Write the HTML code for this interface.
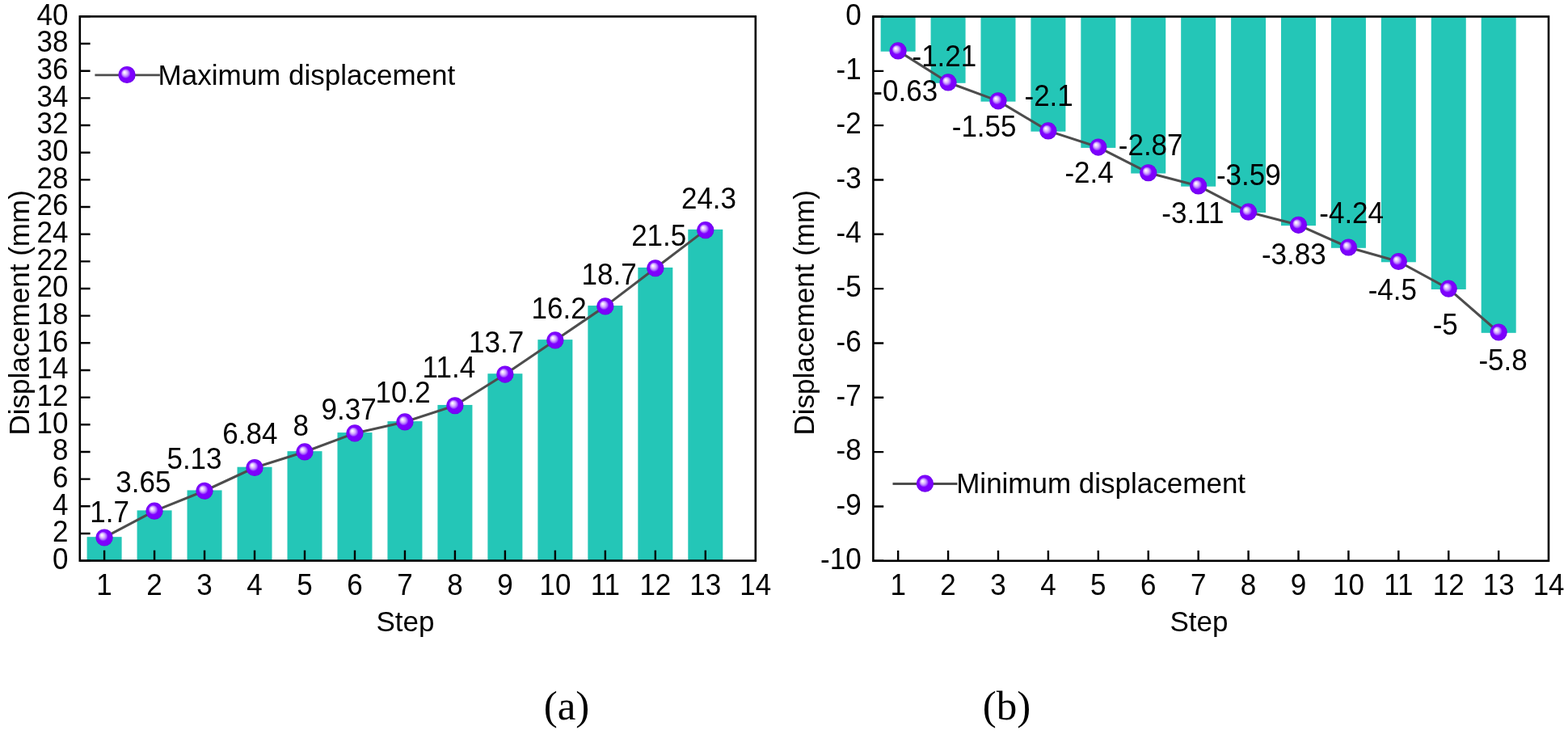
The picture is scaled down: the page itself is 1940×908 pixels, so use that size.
<!DOCTYPE html>
<html><head><meta charset="utf-8"><title>Displacement charts</title>
<style>
html,body{margin:0;padding:0;background:#fff;}
body{width:1940px;height:908px;overflow:hidden;}
svg{display:block;}
.t text, text.t{font-family:"Liberation Sans",Arial,sans-serif;font-size:35px;fill:#000;}
.cap{font-family:"Liberation Serif","Times New Roman",serif;font-size:51px;fill:#000;}
</style></head>
<body>
<svg width="1940" height="908" viewBox="0 0 1940 908">
<defs>
<radialGradient id="ball" cx="0.5" cy="0.5" r="0.5" fx="0.34" fy="0.345">
<stop offset="0" stop-color="#ffffff"/>
<stop offset="0.1" stop-color="#f7eeff"/>
<stop offset="0.3" stop-color="#d4a8ff"/>
<stop offset="0.45" stop-color="#a258ff"/>
<stop offset="0.56" stop-color="#8000ff"/>
<stop offset="0.86" stop-color="#7b00fb"/>
<stop offset="1" stop-color="#6c00e6"/>
</radialGradient>
</defs>
<rect width="1940" height="908" fill="#fff"/>
<g fill="#24c6b7">
<rect x="107.60" y="664.19" width="43.00" height="29.41"/>
<rect x="169.57" y="631.37" width="43.00" height="62.23"/>
<rect x="231.55" y="606.46" width="43.00" height="87.14"/>
<rect x="293.52" y="577.68" width="43.00" height="115.92"/>
<rect x="355.50" y="558.16" width="43.00" height="135.44"/>
<rect x="417.48" y="535.10" width="43.00" height="158.50"/>
<rect x="479.45" y="521.13" width="43.00" height="172.47"/>
<rect x="541.42" y="500.94" width="43.00" height="192.66"/>
<rect x="603.40" y="462.23" width="43.00" height="231.37"/>
<rect x="665.38" y="420.15" width="43.00" height="273.45"/>
<rect x="727.35" y="378.08" width="43.00" height="315.52"/>
<rect x="789.33" y="330.95" width="43.00" height="362.65"/>
<rect x="851.30" y="283.83" width="43.00" height="409.77"/>
</g>
<g stroke="#000" stroke-width="2.6" fill="none">
<rect x="98.80" y="20.40" width="836.00" height="673.20"/>
<path d="M98.80 693.60h12.8 M98.80 659.94h12.8 M98.80 626.28h12.8 M98.80 592.62h12.8 M98.80 558.96h12.8 M98.80 525.30h12.8 M98.80 491.64h12.8 M98.80 457.98h12.8 M98.80 424.32h12.8 M98.80 390.66h12.8 M98.80 357.00h12.8 M98.80 323.34h12.8 M98.80 289.68h12.8 M98.80 256.02h12.8 M98.80 222.36h12.8 M98.80 188.70h12.8 M98.80 155.04h12.8 M98.80 121.38h12.8 M98.80 87.72h12.8 M98.80 54.06h12.8 M98.80 20.40h12.8 M129.10 693.60v-12.8 M191.07 693.60v-12.8 M253.05 693.60v-12.8 M315.02 693.60v-12.8 M377.00 693.60v-12.8 M438.98 693.60v-12.8 M500.95 693.60v-12.8 M562.92 693.60v-12.8 M624.90 693.60v-12.8 M686.88 693.60v-12.8 M748.85 693.60v-12.8 M810.83 693.60v-12.8 M872.80 693.60v-12.8" stroke-linecap="butt" stroke-width="2.4"/>
</g>
<polyline points="129.10,664.99 191.07,632.17 253.05,607.26 315.02,578.48 377.00,558.96 438.98,535.90 500.95,521.93 562.92,501.74 624.90,463.03 686.88,420.95 748.85,378.88 810.83,331.75 872.80,284.63" fill="none" stroke="#4d4d4d" stroke-width="3.1" stroke-linejoin="round"/>
<circle cx="129.10" cy="664.99" r="10.6" fill="url(#ball)"/>
<circle cx="191.07" cy="632.17" r="10.6" fill="url(#ball)"/>
<circle cx="253.05" cy="607.26" r="10.6" fill="url(#ball)"/>
<circle cx="315.02" cy="578.48" r="10.6" fill="url(#ball)"/>
<circle cx="377.00" cy="558.96" r="10.6" fill="url(#ball)"/>
<circle cx="438.98" cy="535.90" r="10.6" fill="url(#ball)"/>
<circle cx="500.95" cy="521.93" r="10.6" fill="url(#ball)"/>
<circle cx="562.92" cy="501.74" r="10.6" fill="url(#ball)"/>
<circle cx="624.90" cy="463.03" r="10.6" fill="url(#ball)"/>
<circle cx="686.88" cy="420.95" r="10.6" fill="url(#ball)"/>
<circle cx="748.85" cy="378.88" r="10.6" fill="url(#ball)"/>
<circle cx="810.83" cy="331.75" r="10.6" fill="url(#ball)"/>
<circle cx="872.80" cy="284.63" r="10.6" fill="url(#ball)"/>
<g class="t">
<text transform="translate(84.50,703.90) scale(1,1.04)" text-anchor="end">0</text>
<text transform="translate(84.50,670.24) scale(1,1.04)" text-anchor="end">2</text>
<text transform="translate(84.50,636.58) scale(1,1.04)" text-anchor="end">4</text>
<text transform="translate(84.50,602.92) scale(1,1.04)" text-anchor="end">6</text>
<text transform="translate(84.50,569.26) scale(1,1.04)" text-anchor="end">8</text>
<text transform="translate(84.50,535.60) scale(1,1.04)" text-anchor="end">10</text>
<text transform="translate(84.50,501.94) scale(1,1.04)" text-anchor="end">12</text>
<text transform="translate(84.50,468.28) scale(1,1.04)" text-anchor="end">14</text>
<text transform="translate(84.50,434.62) scale(1,1.04)" text-anchor="end">16</text>
<text transform="translate(84.50,400.96) scale(1,1.04)" text-anchor="end">18</text>
<text transform="translate(84.50,367.30) scale(1,1.04)" text-anchor="end">20</text>
<text transform="translate(84.50,333.64) scale(1,1.04)" text-anchor="end">22</text>
<text transform="translate(84.50,299.98) scale(1,1.04)" text-anchor="end">24</text>
<text transform="translate(84.50,266.32) scale(1,1.04)" text-anchor="end">26</text>
<text transform="translate(84.50,232.66) scale(1,1.04)" text-anchor="end">28</text>
<text transform="translate(84.50,199.00) scale(1,1.04)" text-anchor="end">30</text>
<text transform="translate(84.50,165.34) scale(1,1.04)" text-anchor="end">32</text>
<text transform="translate(84.50,131.68) scale(1,1.04)" text-anchor="end">34</text>
<text transform="translate(84.50,98.02) scale(1,1.04)" text-anchor="end">36</text>
<text transform="translate(84.50,64.36) scale(1,1.04)" text-anchor="end">38</text>
<text transform="translate(84.50,30.70) scale(1,1.04)" text-anchor="end">40</text>
<text transform="translate(129.10,735.50) scale(1,1.04)" text-anchor="middle">1</text>
<text transform="translate(191.07,735.50) scale(1,1.04)" text-anchor="middle">2</text>
<text transform="translate(253.05,735.50) scale(1,1.04)" text-anchor="middle">3</text>
<text transform="translate(315.02,735.50) scale(1,1.04)" text-anchor="middle">4</text>
<text transform="translate(377.00,735.50) scale(1,1.04)" text-anchor="middle">5</text>
<text transform="translate(438.98,735.50) scale(1,1.04)" text-anchor="middle">6</text>
<text transform="translate(500.95,735.50) scale(1,1.04)" text-anchor="middle">7</text>
<text transform="translate(562.92,735.50) scale(1,1.04)" text-anchor="middle">8</text>
<text transform="translate(624.90,735.50) scale(1,1.04)" text-anchor="middle">9</text>
<text transform="translate(686.88,735.50) scale(1,1.04)" text-anchor="middle">10</text>
<text transform="translate(748.85,735.50) scale(1,1.04)" text-anchor="middle">11</text>
<text transform="translate(810.83,735.50) scale(1,1.04)" text-anchor="middle">12</text>
<text transform="translate(872.80,735.50) scale(1,1.04)" text-anchor="middle">13</text>
<text transform="translate(934.78,735.50) scale(1,1.04)" text-anchor="middle">14</text>
<text transform="translate(111.30,645.90) scale(1,1.04)" text-anchor="start">1.7</text>
<text transform="translate(143.35,609.20) scale(1,1.04)" text-anchor="start">3.65</text>
<text transform="translate(206.45,579.60) scale(1,1.04)" text-anchor="start">5.13</text>
<text transform="translate(275.25,549.40) scale(1,1.04)" text-anchor="start">6.84</text>
<text transform="translate(362.60,538.90) scale(1,1.04)" text-anchor="start">8</text>
<text transform="translate(397.60,518.50) scale(1,1.04)" text-anchor="start">9.37</text>
<text transform="translate(464.60,498.20) scale(1,1.04)" text-anchor="start">10.2</text>
<text transform="translate(522.60,466.60) scale(1,1.04)" text-anchor="start">11.4</text>
<text transform="translate(580.00,435.50) scale(1,1.04)" text-anchor="start">13.7</text>
<text transform="translate(657.60,393.80) scale(1,1.04)" text-anchor="start">16.2</text>
<text transform="translate(719.50,351.80) scale(1,1.04)" text-anchor="start">18.7</text>
<text transform="translate(781.15,304.20) scale(1,1.04)" text-anchor="start">21.5</text>
<text transform="translate(842.95,257.60) scale(1,1.04)" text-anchor="start">24.3</text>
<text transform="translate(465.40,780.50) scale(1,1.0)" text-anchor="start">Step</text>
<text transform="translate(36.30,386.9) rotate(-90) scale(1,1.0)" text-anchor="middle">Displacement (mm)</text>
</g>
<line x1="117.4" y1="92.9" x2="197.9" y2="92.9" stroke="#4d4d4d" stroke-width="2.8"/>
<circle cx="157.1" cy="92.5" r="10.6" fill="url(#ball)"/>
<text class="t" transform="translate(195.60,104.60) scale(1,1.0)">Maximum displacement</text>
<g fill="#24c6b7">
<rect x="1089.65" y="20.50" width="43.00" height="43.22"/>
<rect x="1151.57" y="20.50" width="43.00" height="82.27"/>
<rect x="1213.49" y="20.50" width="43.00" height="105.16"/>
<rect x="1275.41" y="20.50" width="43.00" height="142.19"/>
<rect x="1337.33" y="20.50" width="43.00" height="162.39"/>
<rect x="1399.25" y="20.50" width="43.00" height="194.04"/>
<rect x="1461.17" y="20.50" width="43.00" height="210.20"/>
<rect x="1523.09" y="20.50" width="43.00" height="242.51"/>
<rect x="1585.01" y="20.50" width="43.00" height="258.67"/>
<rect x="1646.93" y="20.50" width="43.00" height="286.28"/>
<rect x="1708.85" y="20.50" width="43.00" height="303.79"/>
<rect x="1770.77" y="20.50" width="43.00" height="337.45"/>
<rect x="1832.69" y="20.50" width="43.00" height="391.31"/>
</g>
<g stroke="#000" stroke-width="2.6" fill="none">
<rect x="1080.40" y="20.50" width="835.60" height="673.30"/>
<path d="M1080.40 20.50h12.8 M1080.40 87.83h12.8 M1080.40 155.16h12.8 M1080.40 222.49h12.8 M1080.40 289.82h12.8 M1080.40 357.15h12.8 M1080.40 424.48h12.8 M1080.40 491.81h12.8 M1080.40 559.14h12.8 M1080.40 626.47h12.8 M1080.40 693.80h12.8 M1111.15 693.80v-12.8 M1173.07 693.80v-12.8 M1234.99 693.80v-12.8 M1296.91 693.80v-12.8 M1358.83 693.80v-12.8 M1420.75 693.80v-12.8 M1482.67 693.80v-12.8 M1544.59 693.80v-12.8 M1606.51 693.80v-12.8 M1668.43 693.80v-12.8 M1730.35 693.80v-12.8 M1792.27 693.80v-12.8 M1854.19 693.80v-12.8" stroke-linecap="butt" stroke-width="2.4"/>
</g>
<polyline points="1111.15,62.92 1173.07,101.97 1234.99,124.86 1296.91,161.89 1358.83,182.09 1420.75,213.74 1482.67,229.90 1544.59,262.21 1606.51,278.37 1668.43,305.98 1730.35,323.49 1792.27,357.15 1854.19,411.01" fill="none" stroke="#4d4d4d" stroke-width="3.1" stroke-linejoin="round"/>
<circle cx="1111.15" cy="62.92" r="10.6" fill="url(#ball)"/>
<circle cx="1173.07" cy="101.97" r="10.6" fill="url(#ball)"/>
<circle cx="1234.99" cy="124.86" r="10.6" fill="url(#ball)"/>
<circle cx="1296.91" cy="161.89" r="10.6" fill="url(#ball)"/>
<circle cx="1358.83" cy="182.09" r="10.6" fill="url(#ball)"/>
<circle cx="1420.75" cy="213.74" r="10.6" fill="url(#ball)"/>
<circle cx="1482.67" cy="229.90" r="10.6" fill="url(#ball)"/>
<circle cx="1544.59" cy="262.21" r="10.6" fill="url(#ball)"/>
<circle cx="1606.51" cy="278.37" r="10.6" fill="url(#ball)"/>
<circle cx="1668.43" cy="305.98" r="10.6" fill="url(#ball)"/>
<circle cx="1730.35" cy="323.49" r="10.6" fill="url(#ball)"/>
<circle cx="1792.27" cy="357.15" r="10.6" fill="url(#ball)"/>
<circle cx="1854.19" cy="411.01" r="10.6" fill="url(#ball)"/>
<g class="t">
<text transform="translate(1065.60,30.80) scale(1,1.04)" text-anchor="end">0</text>
<text transform="translate(1065.60,98.13) scale(1,1.04)" text-anchor="end">-1</text>
<text transform="translate(1065.60,165.46) scale(1,1.04)" text-anchor="end">-2</text>
<text transform="translate(1065.60,232.79) scale(1,1.04)" text-anchor="end">-3</text>
<text transform="translate(1065.60,300.12) scale(1,1.04)" text-anchor="end">-4</text>
<text transform="translate(1065.60,367.45) scale(1,1.04)" text-anchor="end">-5</text>
<text transform="translate(1065.60,434.78) scale(1,1.04)" text-anchor="end">-6</text>
<text transform="translate(1065.60,502.11) scale(1,1.04)" text-anchor="end">-7</text>
<text transform="translate(1065.60,569.44) scale(1,1.04)" text-anchor="end">-8</text>
<text transform="translate(1065.60,636.77) scale(1,1.04)" text-anchor="end">-9</text>
<text transform="translate(1065.60,704.10) scale(1,1.04)" text-anchor="end">-10</text>
<text transform="translate(1111.15,735.50) scale(1,1.04)" text-anchor="middle">1</text>
<text transform="translate(1173.07,735.50) scale(1,1.04)" text-anchor="middle">2</text>
<text transform="translate(1234.99,735.50) scale(1,1.04)" text-anchor="middle">3</text>
<text transform="translate(1296.91,735.50) scale(1,1.04)" text-anchor="middle">4</text>
<text transform="translate(1358.83,735.50) scale(1,1.04)" text-anchor="middle">5</text>
<text transform="translate(1420.75,735.50) scale(1,1.04)" text-anchor="middle">6</text>
<text transform="translate(1482.67,735.50) scale(1,1.04)" text-anchor="middle">7</text>
<text transform="translate(1544.59,735.50) scale(1,1.04)" text-anchor="middle">8</text>
<text transform="translate(1606.51,735.50) scale(1,1.04)" text-anchor="middle">9</text>
<text transform="translate(1668.43,735.50) scale(1,1.04)" text-anchor="middle">10</text>
<text transform="translate(1730.35,735.50) scale(1,1.04)" text-anchor="middle">11</text>
<text transform="translate(1792.27,735.50) scale(1,1.04)" text-anchor="middle">12</text>
<text transform="translate(1854.19,735.50) scale(1,1.04)" text-anchor="middle">13</text>
<text transform="translate(1916.11,735.50) scale(1,1.04)" text-anchor="middle">14</text>
<text transform="translate(1080.35,125.10) scale(1,1.04)" text-anchor="start">-0.63</text>
<text transform="translate(1128.50,81.50) scale(1,1.04)" text-anchor="start">-1.21</text>
<text transform="translate(1177.75,168.60) scale(1,1.04)" text-anchor="start">-1.55</text>
<text transform="translate(1267.50,131.30) scale(1,1.04)" text-anchor="start">-2.1</text>
<text transform="translate(1317.40,226.40) scale(1,1.04)" text-anchor="start">-2.4</text>
<text transform="translate(1383.80,192.20) scale(1,1.04)" text-anchor="start">-2.87</text>
<text transform="translate(1437.30,276.30) scale(1,1.04)" text-anchor="start">-3.11</text>
<text transform="translate(1504.90,228.70) scale(1,1.04)" text-anchor="start">-3.59</text>
<text transform="translate(1560.95,326.80) scale(1,1.04)" text-anchor="start">-3.83</text>
<text transform="translate(1632.30,275.50) scale(1,1.04)" text-anchor="start">-4.24</text>
<text transform="translate(1692.70,370.70) scale(1,1.04)" text-anchor="start">-4.5</text>
<text transform="translate(1772.70,414.30) scale(1,1.04)" text-anchor="start">-5</text>
<text transform="translate(1829.45,458.00) scale(1,1.04)" text-anchor="start">-5.8</text>
<text transform="translate(1447.50,781.00) scale(1,1.0)" text-anchor="start">Step</text>
<text transform="translate(1007.10,386.9) rotate(-90) scale(1,1.0)" text-anchor="middle">Displacement (mm)</text>
</g>
<line x1="1104.5" y1="598.5" x2="1184.5" y2="598.5" stroke="#4d4d4d" stroke-width="2.8"/>
<circle cx="1144.5" cy="598.2" r="10.6" fill="url(#ball)"/>
<text class="t" transform="translate(1183.20,610.20) scale(1,1.0)">Minimum displacement</text>
<text class="cap" x="672.7" y="889.7">(a)</text>
<text class="cap" x="1215.8" y="889.7">(b)</text>
</svg>
</body></html>
